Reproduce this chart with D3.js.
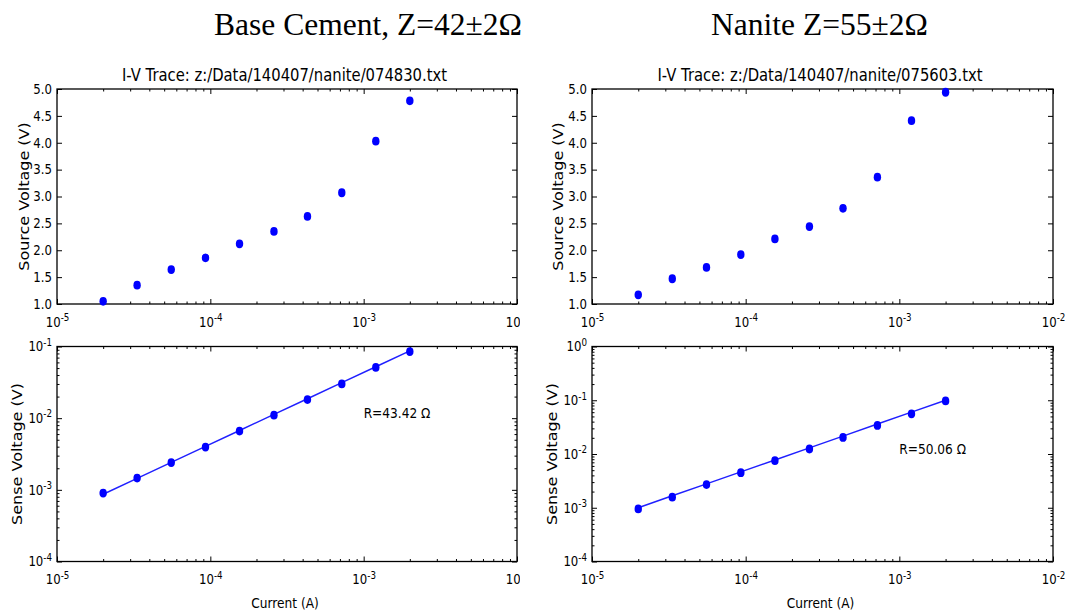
<!DOCTYPE html>
<html>
<head>
<meta charset="utf-8">
<script src="https://cdn.jsdelivr.net/npm/d3@7"></script>
<style>
  body { margin: 0; background: #fff; }
  text { font-family: "DejaVu Sans", sans-serif; fill: #000; }
  .head { font-family: "Liberation Serif", "Times New Roman", serif; }
</style>
</head>
<body>
<svg width="1065" height="611"></svg>
<script>
// measured current through the sample (A), same sweep for both runs
const currentA = [2.0e-5, 3.33e-5, 5.56e-5, 9.3e-5, 1.55e-4, 2.6e-4, 4.3e-4, 7.2e-4, 1.2e-3, 2.0e-3];

// source voltage (V)
const cementSource = [1.05, 1.35, 1.64, 1.86, 2.12, 2.35, 2.63, 3.07, 4.03, 4.78];
const naniteSource = [1.17, 1.47, 1.68, 1.92, 2.21, 2.44, 2.78, 3.36, 4.41, 4.94];

// sense voltage (V)
const cementSense = [9.0e-4, 1.46e-3, 2.4e-3, 3.95e-3, 6.6e-3, 1.1e-2, 1.82e-2, 3.0e-2, 5.1e-2, 8.5e-2];
const naniteSense = [9.5e-4, 1.57e-3, 2.7e-3, 4.5e-3, 7.5e-3, 1.24e-2, 2.03e-2, 3.4e-2, 5.6e-2, 9.7e-2];

// fitted resistance (ohm)
const fitR = [43.42, 50.06];

const headers = ['Base Cement, Z=42\u00b12\u03a9', 'Nanite Z=55\u00b12\u03a9'];
const traceFiles = ['z:/Data/140407/nanite/074830.txt', 'z:/Data/140407/nanite/075603.txt'];
const sourceTicks = [1.0, 1.5, 2.0, 2.5, 3.0, 3.5, 4.0, 4.5, 5.0];

const svg = d3.select('svg');
const squeeze = 0.87;   // plot text is a little narrow

function squeezeText(sel) {
  sel.each(function () {
    const t = d3.select(this);
    const x = +t.attr('x') || 0;
    t.attr('x', x / squeeze).attr('transform', `scale(${squeeze},1)`);
  });
}

function powerLabels(sel) {
  sel.each(function (d) {
    const t = d3.select(this);
    const e = Math.round(Math.log10(d));
    t.text(null);
    t.append('tspan').text('10');
    t.append('tspan').attr('dy', '-0.55em').attr('font-size', '10px').text(e);
  });
}

function decades(lo, hi) {
  const major = [], minor = [];
  for (let k = lo; k <= hi; k++) {
    major.push(Math.pow(10, k));
    if (k < hi) for (let m = 2; m <= 9; m++) minor.push(m * Math.pow(10, k));
  }
  return { major, minor };
}

function frameAxes(g, p, x, y, yTicks, yMinor, yFormat) {
  const xt = decades(-5, -2);
  const bottom = g.append('g').attr('transform', `translate(0,${p.bottom})`)
    .call(d3.axisBottom(x).tickValues(xt.major).tickSizeInner(-5).tickSizeOuter(0).tickPadding(13));
  bottom.selectAll('.tick text').call(powerLabels);
  g.append('g').attr('transform', `translate(0,${p.bottom})`)
    .call(d3.axisBottom(x).tickValues(xt.minor).tickSize(-2.5).tickFormat(''));
  g.append('g').attr('transform', `translate(0,${p.top})`)
    .call(d3.axisTop(x).tickValues(xt.major).tickSize(-5).tickFormat(''));
  g.append('g').attr('transform', `translate(0,${p.top})`)
    .call(d3.axisTop(x).tickValues(xt.minor).tickSize(-2.5).tickFormat(''));

  const left = g.append('g').attr('transform', `translate(${p.left},0)`)
    .call(d3.axisLeft(y).tickValues(yTicks).tickSizeInner(-5).tickSizeOuter(0).tickPadding(5)
      .tickFormat(yFormat || null));
  if (!yFormat) left.selectAll('.tick text').call(powerLabels);
  g.append('g').attr('transform', `translate(${p.right},0)`)
    .call(d3.axisRight(y).tickValues(yTicks).tickSize(-5).tickFormat(''));
  if (yMinor) {
    g.append('g').attr('transform', `translate(${p.left},0)`)
      .call(d3.axisLeft(y).tickValues(yMinor).tickSize(-2.5).tickFormat(''));
    g.append('g').attr('transform', `translate(${p.right},0)`)
      .call(d3.axisRight(y).tickValues(yMinor).tickSize(-2.5).tickFormat(''));
  }

  g.selectAll('.domain').remove();
  g.selectAll('.tick line').attr('stroke', '#000').attr('stroke-width', 1);
  g.selectAll('.tick text').attr('font-size', '13.5px').attr('fill', '#000')
    .attr('font-family', '"DejaVu Sans", sans-serif').call(squeezeText);

  g.append('rect')
    .attr('x', p.left).attr('y', p.top)
    .attr('width', p.right - p.left).attr('height', p.bottom - p.top)
    .attr('fill', 'none').attr('stroke', '#000').attr('stroke-width', 1.3);
}

function label(g, txt, x, y, size, rotate, anchor) {
  g.append('text')
    .attr('transform', `translate(${x},${y}) scale(${squeeze},1) rotate(${rotate || 0})`)
    .attr('text-anchor', anchor || 'middle')
    .attr('dy', rotate ? '0.35em' : null)
    .attr('font-size', size + 'px')
    .text(txt);
}

function markers(g, xs, ys, x, y) {
  g.append('g').selectAll('ellipse')
    .data(xs.map((d, i) => [d, ys[i]]))
    .join('ellipse')
      .attr('cx', d => x(d[0]))
      .attr('cy', d => y(d[1]))
      .attr('rx', 3.7)
      .attr('ry', 4.4)
      .attr('fill', '#0000ff');
}

const layout = [
  { top: { left: 57, right: 517, top: 89, bottom: 304 },
    bot: { left: 57, right: 517, top: 346.5, bottom: 561.5 },
    yTop: -1, cx: 368, ylab: [24, 17], clip: 520 },
  { top: { left: 592, right: 1053, top: 89, bottom: 304 },
    bot: { left: 592, right: 1053, top: 346.5, bottom: 561.5 },
    yTop: 0, cx: 819.5, ylab: [558, 552], clip: null }
];
const sources = [cementSource, naniteSource];
const senses = [cementSense, naniteSense];

layout.forEach((L, i) => {
  svg.append('text').attr('class', 'head')
    .attr('x', L.cx).attr('y', 35)
    .attr('text-anchor', 'middle')
    .attr('font-size', '31.5px')
    .text(headers[i]);

  let root = svg.append('g');
  if (L.clip) {
    svg.append('clipPath').attr('id', 'half' + i)
      .append('rect').attr('x', 0).attr('y', 0).attr('width', L.clip).attr('height', 611);
    root.attr('clip-path', `url(#half${i})`);
  }

  // source voltage vs current
  const p = L.top;
  const gT = root.append('g');
  const x1 = d3.scaleLog().domain([1e-5, 1e-2]).range([p.left, p.right]);
  const y1 = d3.scaleLinear().domain([1, 5]).range([p.bottom, p.top]);
  frameAxes(gT, p, x1, y1, sourceTicks, null, d3.format('.1f'));
  markers(gT, currentA, sources[i], x1, y1);
  label(gT, 'I-V Trace: ' + traceFiles[i], (p.left + p.right) / 2 - 2.5, 81, 17);
  label(gT, 'Source Voltage (V)', L.ylab[0], (p.top + p.bottom) / 2, 16, -90);

  // sense voltage vs current, with the resistance fit
  const q = L.bot;
  const gB = root.append('g');
  const x2 = d3.scaleLog().domain([1e-5, 1e-2]).range([q.left, q.right]);
  const yt = decades(-4, L.yTop);
  const y2 = d3.scaleLog().domain([1e-4, Math.pow(10, L.yTop)]).range([q.bottom, q.top]);
  frameAxes(gB, q, x2, y2, yt.major, yt.minor, null);

  const fit = d3.line().x(d => x2(d)).y(d => y2(d * fitR[i]));
  gB.append('path')
    .attr('d', fit(currentA))
    .attr('fill', 'none')
    .attr('stroke', '#2020ff')
    .attr('stroke-width', 1.5);
  markers(gB, currentA, senses[i], x2, y2);

  label(gB, 'R=' + fitR[i].toFixed(2) + ' \u03a9', x2(1e-3), y2(1e-2), 14, 0, 'start');
  label(gB, 'Sense Voltage (V)', L.ylab[1], (q.top + q.bottom) / 2, 16, -90);
  label(gB, 'Current (A)', (q.left + q.right) / 2 - 2, 608, 14);
});
</script>
</body>
</html>
